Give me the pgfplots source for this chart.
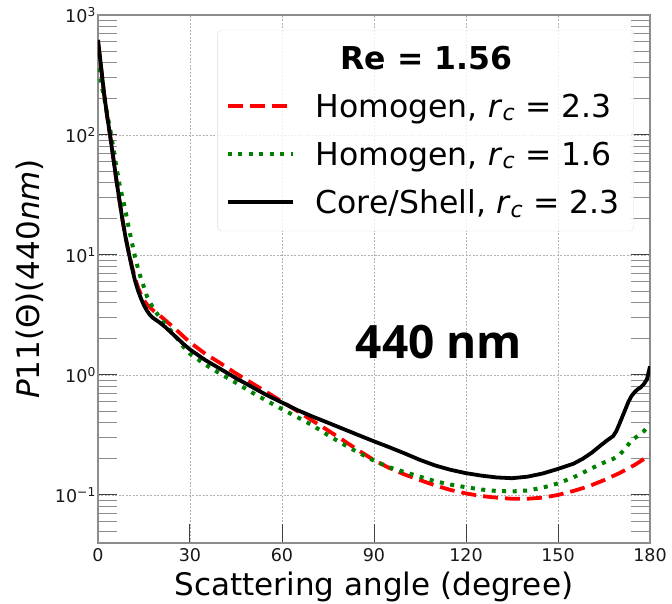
\documentclass[border=0pt]{standalone}
\usepackage{fontspec}
\setmainfont{DejaVu Sans}
\newfontfamily\opensans{Open Sans}
\usepackage{pgfplots}
\pgfplotsset{compat=1.18}

\pgfplotstableread{
x y
0 620
0.5 480
1 370
1.5 285
2 220
3 143
4 97
5 64
6 42
7 28.5
8 19.5
9 14
10 10.5
11 8.0
12 6.2
13 5.1
14 4.35
15 3.8
16 3.42
17 3.15
18 2.98
20 2.75
22 2.5
25 2.12
28 1.8
30 1.63
35 1.33
40 1.12
45 0.94
50 0.8
55 0.68
60 0.59
65 0.51
70 0.45
75 0.4
80 0.355
85 0.315
90 0.28
95 0.25
100 0.222
105 0.196
110 0.176
115 0.162
120 0.152
125 0.145
130 0.14
135 0.138
140 0.142
145 0.151
150 0.165
155 0.182
158 0.2
161 0.225
164 0.26
166 0.285
168 0.31
169 0.34
170 0.39
171 0.45
172 0.52
173 0.6
174 0.67
175 0.72
176 0.76
177 0.79
178 0.84
179 0.92
180 1.18
}\coreshell

\pgfplotstableread{
x y
0 600
0.5 470
1 365
1.5 283
2 218
3 142
4 97
5 64
6 42
7 28.5
8 19.5
9 14
10 10.6
11 8.2
12 6.5
13 5.4
14 4.7
15 4.2
16 3.85
18 3.45
20 3.15
22 2.85
25 2.45
28 2.08
30 1.87
35 1.5
40 1.25
45 1.03
50 0.86
55 0.72
60 0.6
65 0.5
70 0.415
75 0.345
80 0.285
85 0.235
90 0.195
95 0.168
100 0.148
105 0.133
110 0.12
115 0.11
120 0.103
125 0.098
130 0.095
135 0.093
140 0.093
145 0.095
150 0.1
155 0.108
160 0.118
165 0.133
170 0.152
175 0.178
180 0.215
}\homogA

\pgfplotstableread{
x y
0 360
0.5 320
1 270
1.5 237
2 205
3 150
4 110
5 78
6 54
7 39
8 30
9 23
10 17
11 12.9
12 9.8
13 7.8
14 6.4
15 5.4
16 4.5
18 3.6
20 3.05
22 2.65
25 2.15
28 1.7
30 1.5
35 1.22
40 1.02
45 0.86
50 0.72
55 0.61
60 0.52
65 0.445
70 0.38
75 0.315
80 0.265
85 0.225
90 0.193
95 0.17
100 0.155
105 0.142
110 0.13
115 0.122
120 0.116
125 0.111
130 0.108
135 0.107
140 0.109
145 0.115
150 0.125
155 0.14
160 0.162
164 0.182
168 0.2
170 0.215
172 0.245
174 0.285
176 0.31
178 0.34
180 0.39
}\homogB

\begin{document}
\begin{tikzpicture}
\begin{axis}[
  scale only axis, width=552pt, height=528pt,
  xmin=0, xmax=180, ymode=log, ymin=0.0398, ymax=1000,
  xtick={0,30,60,90,120,150,180},
  ytick={0.1,1,10,100,1000},
  yticklabels={10\textsuperscript{−1},10\textsuperscript{0},10\textsuperscript{1},10\textsuperscript{2},10\textsuperscript{3}},
  minor ytick={0.04,0.05,0.06,0.07,0.08,0.09,0.2,0.3,0.4,0.5,0.6,0.7,0.8,0.9,2,3,4,5,6,7,8,9,20,30,40,50,60,70,80,90,200,300,400,500,600,700,800,900},
  /pgf/number format/assume math mode=true,
  tick align=inside, xtick pos=left, ytick pos=both,
  major tick length=19pt, minor tick length=19pt,
  major tick style={black!75, line width=1pt},
  minor tick style={black!45, line width=1pt},
  axis line style={black!45, line width=1.3pt},
  grid=major,
  major grid style={black!30, line width=0.6pt, dash pattern=on 2pt off 1.5pt},
  tick label style={font=\fontsize{17.5}{21}\selectfont, text=black!90},
  xticklabel style={inner sep=0pt, yshift=-5pt},
  yticklabel style={inner sep=0pt, xshift=-2pt},
  xlabel={Scattering angle (degree)},
  ylabel={\textit{P}11(Θ)(440\textit{nm})},
  label style={font=\fontsize{31}{37}\selectfont},
  xlabel style={at={(axis description cs:0.5,0)}, anchor=base, yshift=-52pt},
  ylabel style={at={(axis description cs:-0.1232,0.5)}, anchor=center, rotate=0},
  legend style={at={(0.971,0.972)}, anchor=north east,
    draw=black!13, rounded corners=4pt, fill=white, fill opacity=0.8, text opacity=1, draw opacity=1,
    font=\fontsize{31.5}{38}\selectfont, row sep=17pt, column sep=15pt,
    inner xsep=8pt, inner ysep=13pt, nodes={inner xsep=6pt, inner ysep=3pt}},
  legend cell align=left,
  legend image code/.code={\draw[#1] (0pt,0pt) -- (65pt,0pt);},
]
\addlegendimage{empty legend}
\addlegendentry{\hspace{25pt}\textbf{Re = 1.56}}
\addplot[red, line width=3.8pt, dash pattern=on 15pt off 7pt] table {\homogA};
\addlegendentry{Homogen, \textit{r}\textsubscript{\textit{c}} = 2.3}
\addplot[black!50!green, line width=4pt, dash pattern=on 4pt off 6.5pt] table {\homogB};
\addlegendentry{Homogen, \textit{r}\textsubscript{\textit{c}} = 1.6}
\addplot[black, line width=3.8pt] table {\coreshell};
\addlegendentry{Core/Shell, \textit{r}\textsubscript{\textit{c}} = 2.3}
\node[font=\opensans\bfseries\fontsize{46}{52}\selectfont] at (axis cs:111.2,1.884) {440 nm};
\end{axis}
\pgfresetboundingbox
\path[use as bounding box] ([xshift=-98pt,yshift=-60pt]current axis.south west) rectangle ([xshift=22pt,yshift=15pt]current axis.north east);
\end{tikzpicture}
\end{document}
